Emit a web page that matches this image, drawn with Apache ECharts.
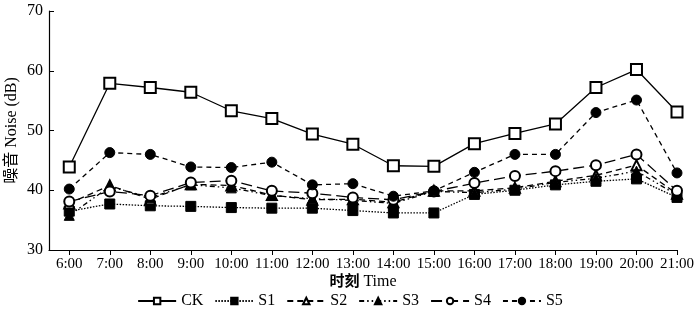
<!DOCTYPE html>
<html>
<head>
    <meta charset="utf-8">
    <title>Noise</title>
</head>
<body style="margin:0;background:#fff;">
    <div id="main" style="width: 700px;height:316px;"></div>
<script src="https://cdn.jsdelivr.net/npm/echarts@6/dist/echarts.min.js"></script>
<script>
// hours of the day (6:00 .. 21:00)
var times = ['6:00','7:00','8:00','9:00','10:00','11:00','12:00','13:00','14:00','15:00','16:00','17:00','18:00','19:00','20:00','21:00'];
var ck = [43.9, 57.9, 57.2, 56.4, 53.3, 52.0, 49.4, 47.7, 44.1, 44.0, 47.8, 49.5, 51.1, 57.2, 60.2, 53.1];
var s1 = [36.5, 37.7, 37.4, 37.3, 37.1, 37.0, 37.0, 36.6, 36.2, 36.2, 39.3, 40.0, 40.9, 41.5, 41.9, 38.8];
var s2 = [37.8, 40.8, 38.5, 41.0, 40.8, 39.2, 38.4, 38.5, 38.0, 39.9, 39.9, 40.4, 41.5, 42.5, 44.2, 39.4];
var s3 = [35.8, 40.6, 38.8, 40.9, 40.4, 39.1, 38.6, 38.3, 37.8, 39.8, 39.6, 40.2, 41.3, 42.0, 43.2, 39.2];
var s4 = [38.1, 39.8, 39.1, 41.3, 41.6, 39.9, 39.5, 38.8, 38.4, 39.8, 41.2, 42.4, 43.2, 44.2, 46.0, 39.9];
var s5 = [40.2, 46.3, 46.0, 43.9, 43.8, 44.7, 40.9, 41.1, 39.0, 39.9, 43.0, 46.0, 46.0, 53.0, 55.1, 42.9];

var hours = times.map(function (t) { return parseInt(t); });
function pairs(arr) {
    return arr.map(function (v, i) { return [hours[i], v]; });
}

var font = '"Liberation Serif", "Noto Sans CJK SC", serif';

function mk(name, data, symbol, size, type) {
    return {
        name: name,
        type: 'line',
        data: pairs(data),
        symbol: symbol,
        symbolSize: size,
        lineStyle: { color: '#000', width: 1.3, type: type },
        itemStyle: { color: '#000', borderColor: '#000', borderWidth: 1 },
        emphasis: { disabled: true },
        z: 2
    };
}

var myChart = echarts.init(document.getElementById('main'));
myChart.setOption({
    animation: false,
    backgroundColor: '#fff',
    grid: { left: 49, right: 23, top: 11, bottom: 66, containLabel: false, outerBoundsMode: 'none' },
    legend: {
        bottom: 2,
        left: 'center',
        itemWidth: 38,
        itemHeight: 8,
        itemGap: 11,
        textStyle: { fontFamily: font, fontSize: 16, color: '#000' },
        data: ['CK', 'S1', 'S2', 'S3', 'S4', 'S5']
    },
    xAxis: {
        type: 'value',
        min: 5.5,
        max: 21,
        name: '{b|时刻} Time',
        nameLocation: 'middle',
        nameGap: 24,
        nameMoveOverlap: false,
        nameTextStyle: {
            fontFamily: font, fontSize: 16, color: '#000',
            rich: {
                b: { fontFamily: font, fontWeight: 'bold', fontSize: 15, color: '#000' }
            }
        },
        splitLine: { show: false },
        axisLine: { show: true, onZero: false, lineStyle: { color: '#000', width: 1.2 } },
        axisTick: { show: true, inside: false, length: 5, customValues: hours, lineStyle: { color: '#000' } },
        axisLabel: {
            customValues: hours,
            formatter: function (v) { return v + ':00'; },
            fontFamily: font, fontSize: 15, color: '#000', margin: 7
        }
    },
    yAxis: {
        type: 'value',
        min: 30,
        max: 70,
        interval: 10,
        name: '噪音 Noise (dB)',
        nameLocation: 'middle',
        nameGap: 29,
        nameMoveOverlap: false,
        nameTextStyle: { fontFamily: font, fontSize: 16, color: '#000' },
        splitLine: { show: false },
        axisLine: { show: true, lineStyle: { color: '#000', width: 1.2 } },
        axisTick: { show: true, inside: true, length: 5, lineStyle: { color: '#000' } },
        axisLabel: { fontFamily: font, fontSize: 16, color: '#000', margin: 6 }
    },
    series: [
        mk('CK', ck, 'emptyRect', 11, 'solid'),
        mk('S1', s1, 'rect', 10, [1.5, 1.5]),
        mk('S2', s2, 'emptyTriangle', 10, [6, 4]),
        mk('S3', s3, 'triangle', 10, [5, 3, 1.5, 3, 1.5, 3]),
        mk('S4', s4, 'emptyCircle', 10, [11, 5]),
        mk('S5', s5, 'circle', 10, [5, 4])
    ]
});
</script>
</body>
</html>
